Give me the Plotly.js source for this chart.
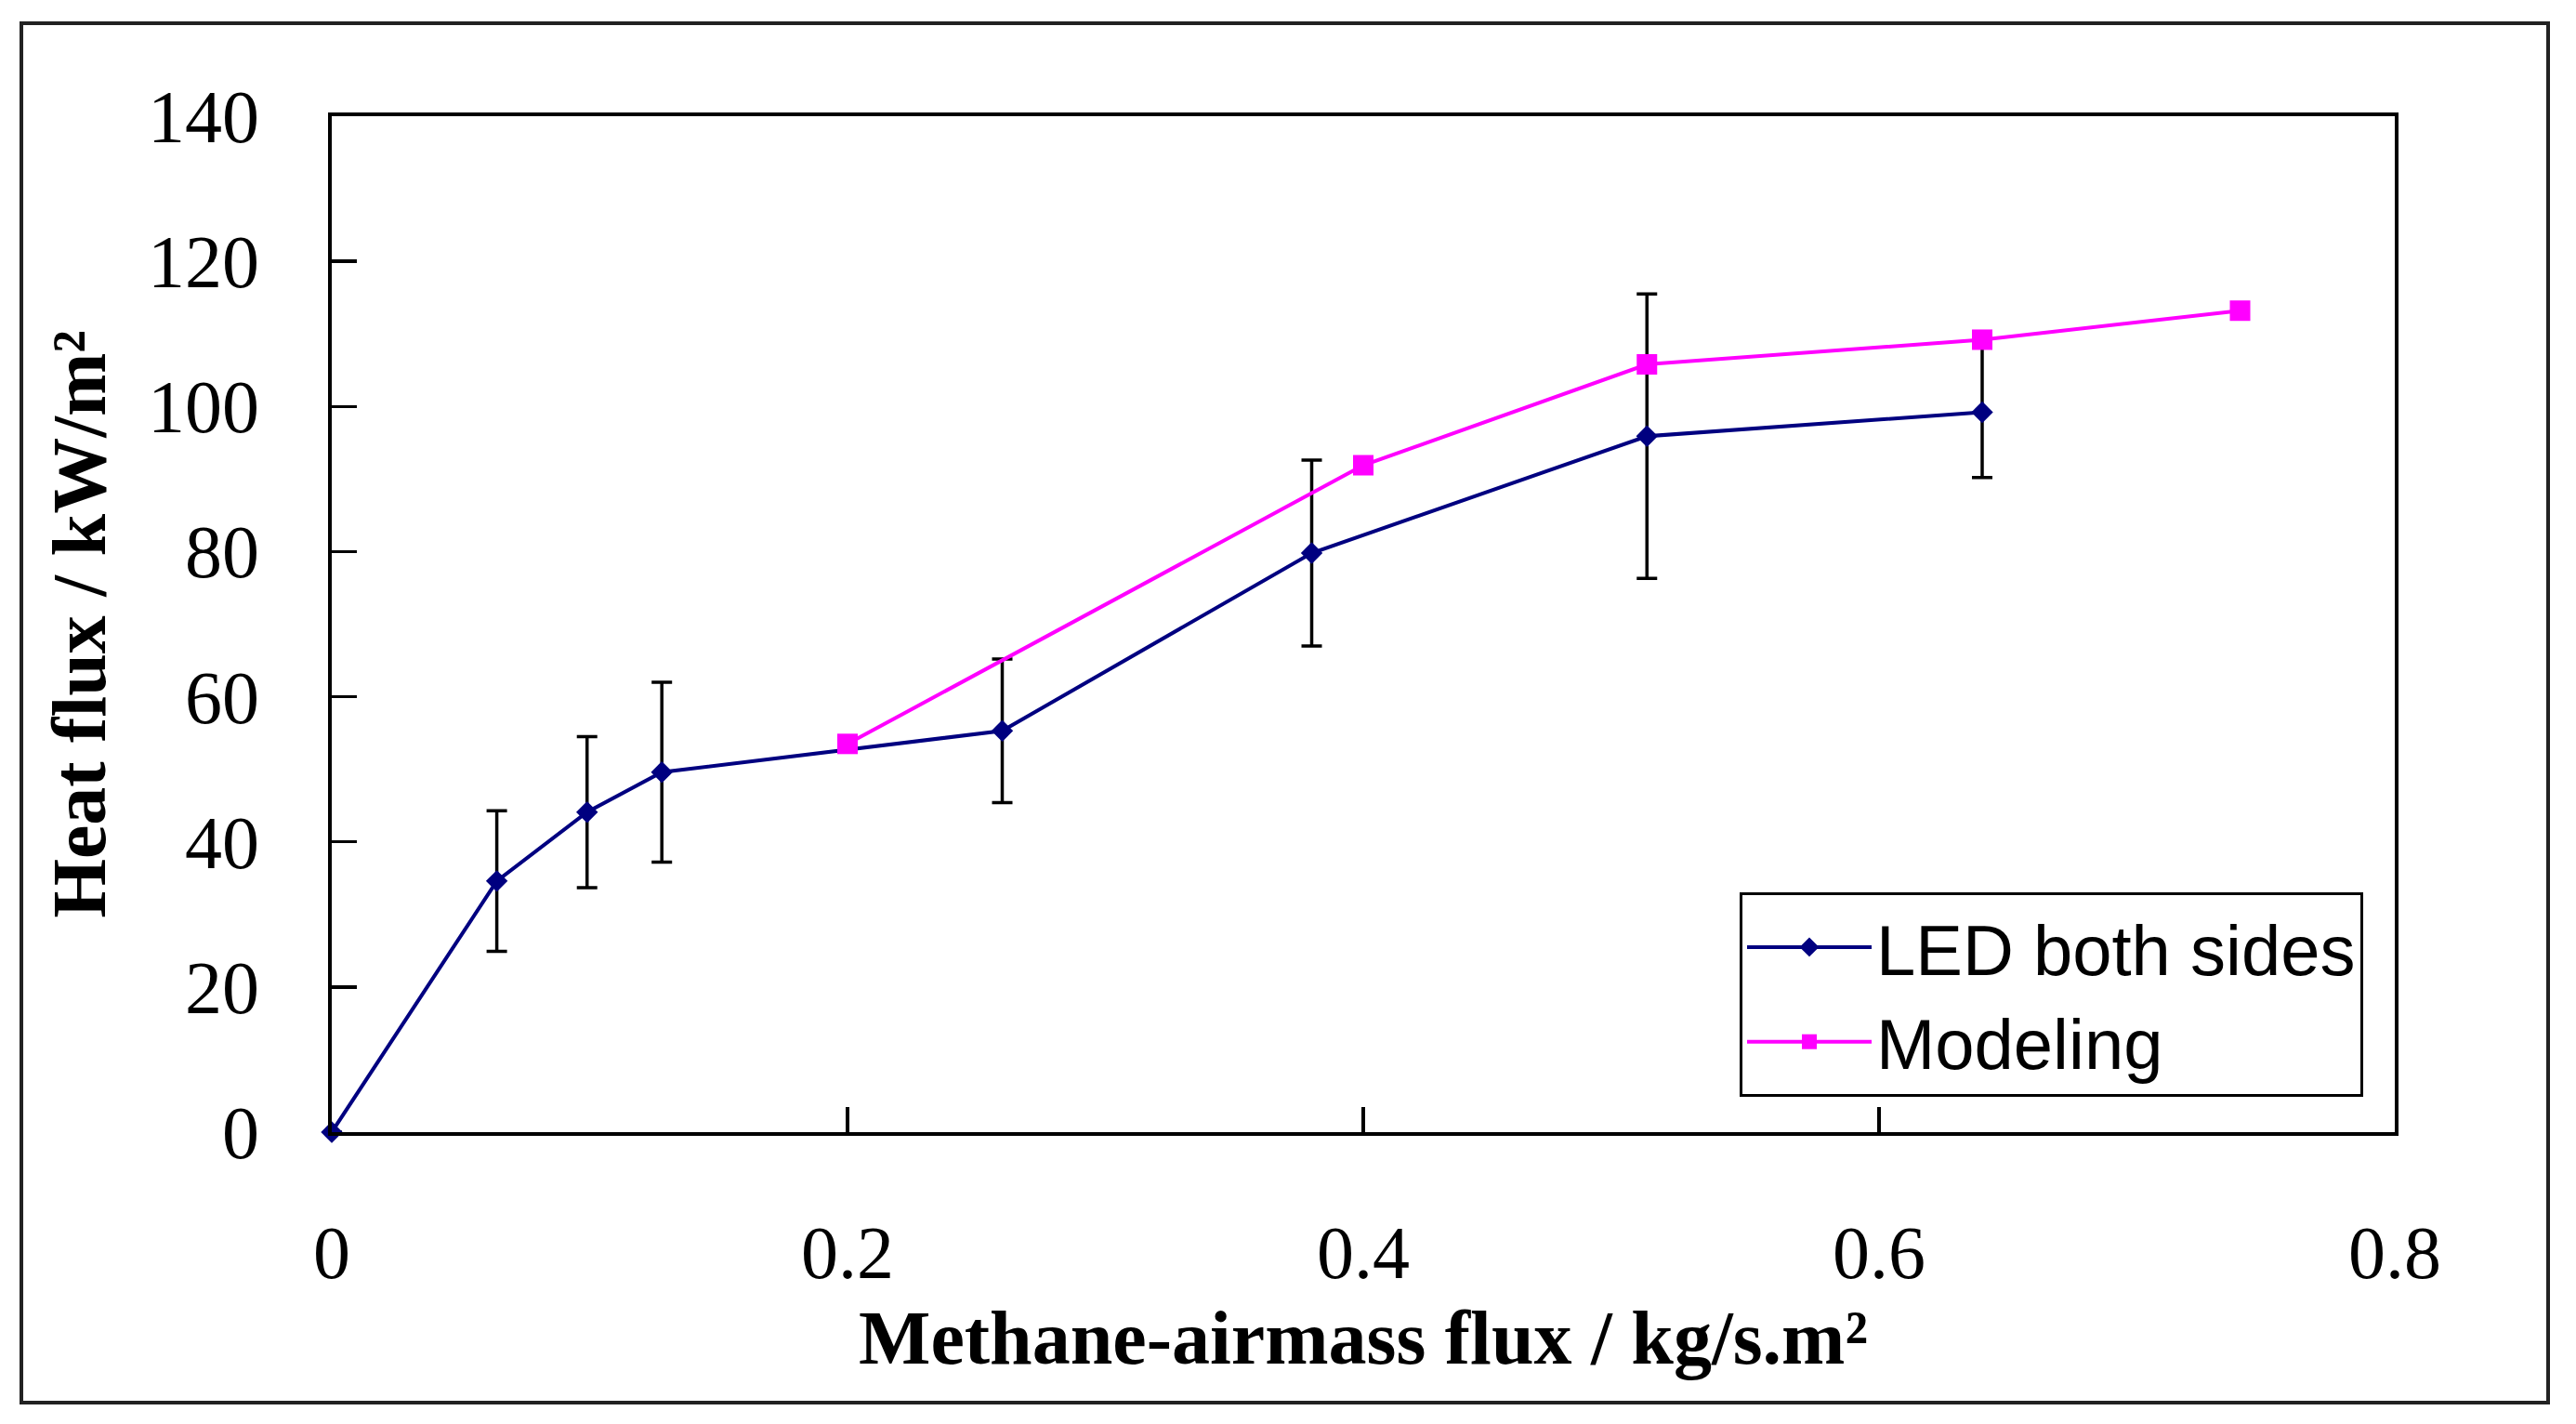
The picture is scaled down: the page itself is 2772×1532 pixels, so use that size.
<!DOCTYPE html>
<html>
<head>
<meta charset="utf-8">
<script src="https://cdn.plot.ly/plotly-3.0.1.min.js"></script>
<style>html,body{margin:0;padding:0;background:#fff;}</style>
</head>
<body>
<div id="chart" style="width:2772px;height:1532px;"></div>
<script>
// Data
const ledX = [0, 0.064, 0.099, 0.128, 0.26, 0.38, 0.51, 0.64];
const ledY = [0, 34.6, 44.1, 49.6, 55.3, 79.8, 95.9, 99.2];
const ledErr = [0, 9.7, 10.4, 12.4, 9.9, 12.8, 19.6, 9.0];

const modelX = [0.2, 0.4, 0.51, 0.64, 0.74];
const modelY = [53.5, 91.9, 105.8, 109.2, 113.2];

const xTicks = [0, 0.2, 0.4, 0.6, 0.8];
const xTickText = ['0', '0.2', '0.4', '0.6', '0.8'];
const yTicks = [0, 20, 40, 60, 80, 100, 120, 140];

const seriesNames = ['LED both sides', 'Modeling'];
const xTitle = 'Methane-airmass flux / kg/s.m²';
const yTitle = 'Heat flux / kW/m²';

const W = 2772, H = 1532;
const L = 357, R = 2577, T = 125, B = 1218;
const px = v => (v - L) / (R - L);
const py = v => (B - v) / (B - T);

const traces = [
  {
    x: ledX, y: ledY, name: seriesNames[0], type: 'scatter', mode: 'lines+markers',
    line: {color: '#000080', width: 4},
    marker: {symbol: 'diamond', size: 18, color: '#000080'},
    error_y: {type: 'data', array: ledErr, visible: true, color: '#000000', thickness: 3.5, width: 11},
    cliponaxis: false
  },
  {
    x: modelX, y: modelY, name: seriesNames[1], type: 'scatter', mode: 'lines+markers',
    line: {color: '#FF00FF', width: 4},
    marker: {symbol: 'square', size: 22, color: '#FF00FF'},
    cliponaxis: false
  }
];

const serif = 'Liberation Serif, Times New Roman, serif';

const layout = {
  width: W, height: H,
  paper_bgcolor: '#ffffff', plot_bgcolor: '#ffffff',
  margin: {l: L, r: W - R, t: T, b: H - B, pad: 0},
  showlegend: true,
  legend: {
    x: px(1872), y: py(960), xanchor: 'left', yanchor: 'top',
    bgcolor: '#ffffff', bordercolor: '#000000', borderwidth: 3,
    font: {family: 'Liberation Sans, Arial, sans-serif', size: 76, color: '#000000'},
    itemwidth: 134, tracegroupgap: 0
  },
  xaxis: {
    range: [0, 0.8], tickvals: xTicks, ticktext: xTickText,
    showgrid: false, zeroline: false,
    showline: true, linecolor: '#000000', linewidth: 4, mirror: true,
    ticks: 'inside', ticklen: 27, tickwidth: 3.5, tickcolor: '#000000',
    ticklabelstandoff: 57,
    tickfont: {family: serif, size: 80, color: '#000000'},
    title: {text: xTitle, font: {family: serif, size: 82, color: '#000000', weight: 'bold'}, standoff: 20}
  },
  yaxis: {
    range: [0, 140], tickvals: yTicks,
    showgrid: false, zeroline: false,
    showline: true, linecolor: '#000000', linewidth: 4, mirror: true,
    ticks: 'inside', ticklen: 27, tickwidth: 3.5, tickcolor: '#000000',
    ticklabelstandoff: 58,
    tickfont: {family: serif, size: 80, color: '#000000'},
    title: {text: yTitle, font: {family: serif, size: 82, color: '#000000', weight: 'bold'}, standoff: 19}
  },
  shapes: [
    {type: 'rect', xref: 'paper', yref: 'paper', layer: 'above',
     x0: px(23), x1: px(2742), y0: py(25), y1: py(1509),
     line: {color: '#222222', width: 4}, fillcolor: 'rgba(0,0,0,0)'}
  ]
};

Plotly.newPlot('chart', traces, layout, {staticPlot: true, displayModeBar: false});
</script>
</body>
</html>
